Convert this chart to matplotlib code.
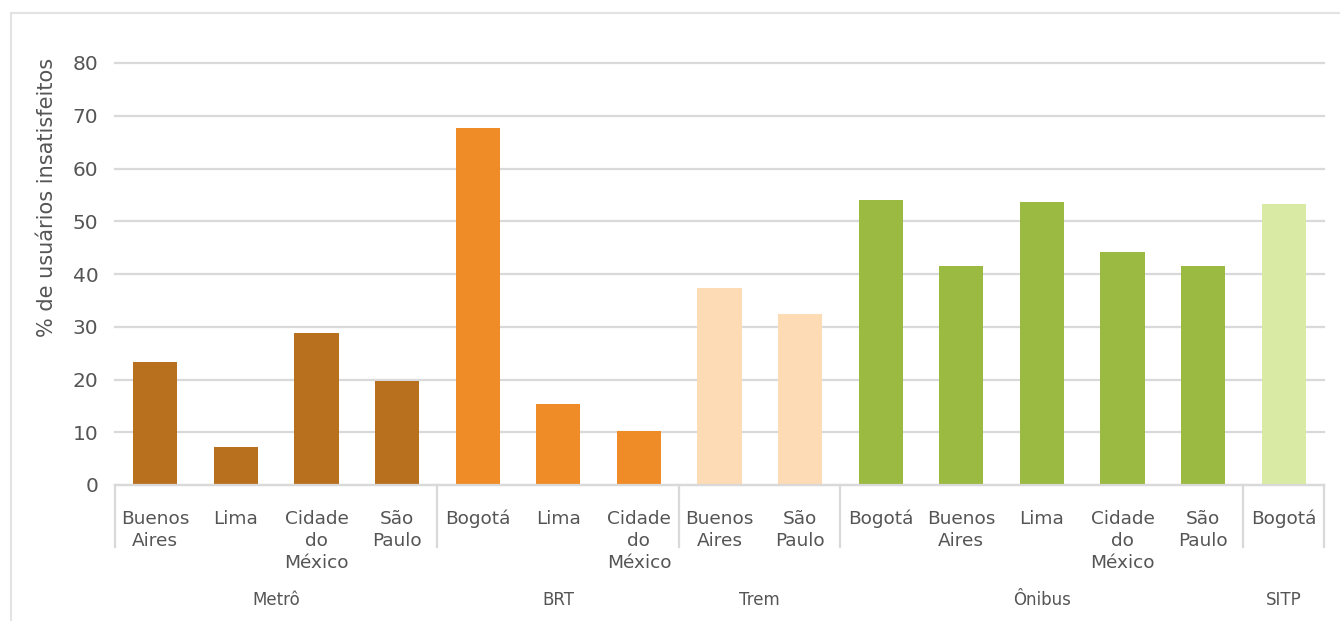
import matplotlib
matplotlib.use("Agg")
import matplotlib.pyplot as plt
from matplotlib.lines import Line2D
from matplotlib.transforms import blended_transform_factory

plt.rcParams['font.family'] = ['DejaVu Sans']

# --- data -------------------------------------------------------------
groups = ["Metrô", "BRT", "Trem", "Ônibus", "SITP"]
group_cities = [
    ["Buenos\nAires", "Lima", "Cidade\ndo\nMéxico", "São\nPaulo"],
    ["Bogotá", "Lima", "Cidade\ndo\nMéxico"],
    ["Buenos\nAires", "São\nPaulo"],
    ["Bogotá", "Buenos\nAires", "Lima", "Cidade\ndo\nMéxico", "São\nPaulo"],
    ["Bogotá"],
]
group_values = [
    [23.3, 7.2, 28.8, 19.7],
    [67.7, 15.4, 10.2],
    [37.3, 32.4],
    [54.0, 41.5, 53.6, 44.2, 41.5],
    [53.3],
]
group_colors = ["#B9701E", "#F08C28", "#FDDBB5", "#9BBA42", "#D8EAA4"]
y_ticks = [0, 10, 20, 30, 40, 50, 60, 70, 80]
y_label = "% de usuários insatisfeitos"

# --- figure -----------------------------------------------------------
W, H = 1340, 621
fig = plt.figure(figsize=(W / 100, H / 100), dpi=100)
fig.patch.set_facecolor("white")
ax = fig.add_axes([115 / W, 136 / H, 1209 / W, 422 / H])

text_color = "#555555"
grid_color = "#D9D9D9"

x = 0
positions, labels, group_spans = [], [], []
for cities, vals, col in zip(group_cities, group_values, group_colors):
    start = x
    xs = list(range(x, x + len(vals)))
    ax.bar(xs, vals, width=0.55, color=col, zorder=3)
    positions += xs
    labels += cities
    x += len(vals)
    group_spans.append((start, x - 1))

n = len(positions)
ax.set_xlim(-0.5, n - 0.5)
ax.set_ylim(0, 80)
ax.set_yticks(y_ticks)
ax.set_yticklabels([str(t) for t in y_ticks], fontsize=14.5, color=text_color)
ax.tick_params(axis="y", length=0, pad=12)
ax.set_xticks([])
ax.yaxis.grid(True, color=grid_color, linewidth=1.6, zorder=0)
for gl in ax.get_ygridlines():
    gl.set_clip_on(False)
for s in ["top", "right", "left"]:
    ax.spines[s].set_visible(False)
ax.spines["bottom"].set_color(grid_color)
ax.spines["bottom"].set_linewidth(1.6)
ax.spines["bottom"].set_zorder(4)

def fy(py):
    return 1 - py / H

# axis title, rotated, placed in figure pixels
fig.text(47 / W, fy(197), y_label, rotation=90, ha="center", va="center",
         fontsize=15, color=text_color)

trans = blended_transform_factory(ax.transData, fig.transFigure)

# category labels
for p, lab in zip(positions, labels):
    ax.text(p, fy(510), lab, transform=trans, ha="center", va="top",
            fontsize=13.3, color=text_color, linespacing=1.27, multialignment="center")

# group separators
bounds = [-0.5] + [end + 0.5 for _, end in group_spans]
for b in bounds:
    ax.add_line(Line2D([b, b], [fy(485), fy(547)], transform=trans,
                       color=grid_color, linewidth=1.6, clip_on=False))

# group labels
for (s, e), g in zip(group_spans, groups):
    ax.text((s + e) / 2, fy(600), g, transform=trans, ha="center", va="center",
            fontsize=12, color=text_color)

# outer frame
fig.add_artist(Line2D([11 / W, 11 / W], [0, fy(13)], transform=fig.transFigure,
                      color="#E3E3E3", linewidth=1.5))
fig.add_artist(Line2D([11 / W, 1], [fy(13), fy(13)], transform=fig.transFigure,
                      color="#E3E3E3", linewidth=1.5))

fig.savefig("out.png", dpi=100, facecolor="white")
